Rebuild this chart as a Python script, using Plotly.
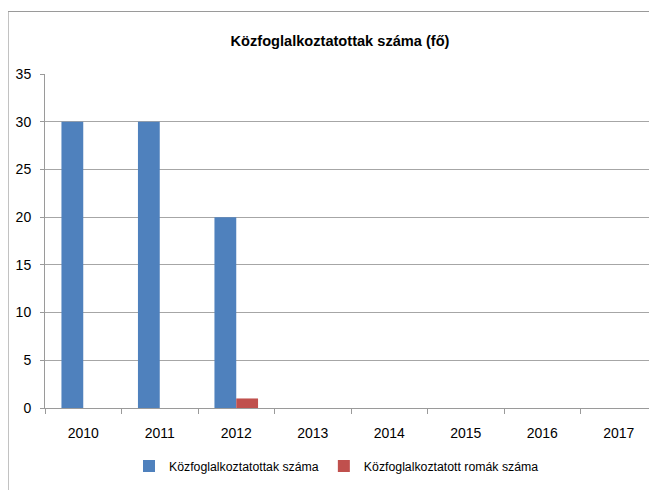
import plotly.graph_objects as go

years = ["2010", "2011", "2012", "2013", "2014", "2015", "2016", "2017"]
kozfoglalkoztatottak = [30, 30, 20, 0, 0, 0, 0, 0]
romak = [0, 0, 1, 0, 0, 0, 0, 0]

FONT = "Liberation Sans Narrow, Arial Narrow, sans-serif"

# the page body adds an 8px offset, so the figure is sized to the visible area
OFF = 8
W, H = 657 - OFF, 490 - OFF
L, R, T, B = 45 - OFF, 0, 74 - OFF, 82
pw, ph = W - L - R, H - T - B

fig = go.Figure()
fig.add_trace(go.Bar(x=years, y=kozfoglalkoztatottak, name="Közfoglalkoztatottak száma",
                     marker=dict(color="#4F81BD", line=dict(width=0))))
fig.add_trace(go.Bar(x=years, y=romak, name="Közfoglalkoztatott romák száma",
                     marker=dict(color="#C0504D", line=dict(width=0))))

# outer chart frame (extends past the window on right/bottom)
fig.add_shape(type="rect", xref="paper", yref="paper",
              x0=(8 - OFF - L) / pw, x1=(W + 20 - L) / pw,
              y0=-(B + 20) / ph, y1=(H - B - (11.5 - OFF)) / ph,
              line=dict(color="#9a9a9a", width=1.2), layer="below")

fig.update_layout(
    width=W, height=H,
    margin=dict(l=L, r=R, t=T, b=B, autoexpand=False),
    paper_bgcolor="white", plot_bgcolor="white",
    barmode="group", bargap=0.43, bargroupgap=0,
    title=dict(text="<b>Közfoglalkoztatottak száma (fő)</b>", x=(340 - OFF) / W, xanchor="center",
               y=1 - (41 - OFF) / H, yanchor="middle", xref="container", yref="container",
               font=dict(family=FONT, size=14.6, color="black")),
    font=dict(family=FONT, size=12, color="black"),
    showlegend=True,
    legend=dict(orientation="h", x=(121 - L) / pw, xanchor="left",
                y=-(466 - OFF - (H - B)) / ph, yanchor="middle",
                font=dict(family=FONT, size=12.3), itemwidth=30,
                bgcolor="rgba(0,0,0,0)"),
    xaxis=dict(type="category", showgrid=False, showline=True, linecolor="#9a9a9a",
               linewidth=1, ticks="outside", tickson="boundaries", ticklen=5,
               tickcolor="#9a9a9a", tickfont=dict(size=14), automargin=False,
               ticklabelstandoff=12),
    yaxis=dict(range=[0, 35], dtick=5, showgrid=True, gridcolor="#a6a6a6",
               gridwidth=1, showline=True, linecolor="#9a9a9a", linewidth=1,
               ticks="outside", ticklen=4, tickcolor="#9a9a9a", zeroline=False,
               tickfont=dict(size=14), automargin=False, ticklabelstandoff=6),
)

fig.write_html("out.html")
